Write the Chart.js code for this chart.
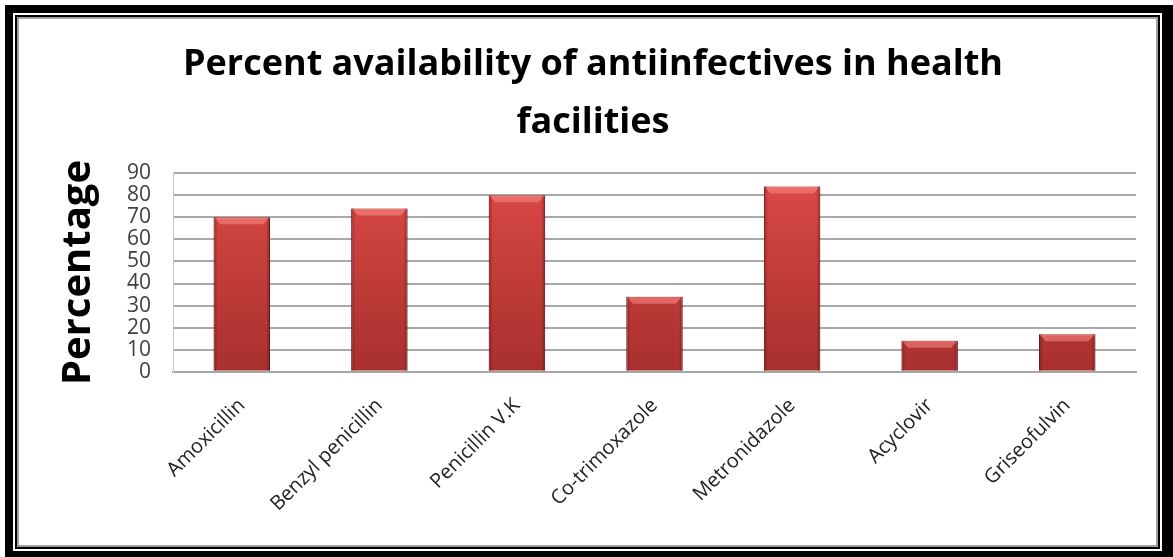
<!DOCTYPE html>
<html>
<head>
<meta charset="utf-8">
<script src="https://cdn.jsdelivr.net/npm/chart.js@4"></script>
<style>
  html, body { margin: 0; padding: 0; background: #fff; }
  #page { position: relative; width: 1173px; height: 557px; overflow: hidden; background: #fff; }
  #outer { position: absolute; left: 5px; top: 5px; right: 0; bottom: 0; background: #000; }
  #frame {
    position: absolute; left: 13px; top: 13px; right: 11px; bottom: 6px;
    border: 2px solid #fff; background: #fff;
    box-shadow: inset 0 0 0 2px #000, inset 0 0 0 4px #a0a0a0;
  }
  #wrap { position: absolute; left: 0; top: 0; width: 1173px; height: 557px; }
</style>
</head>
<body>
<div id="page">
  <div id="outer"></div>
  <div id="frame"></div>
  <div id="wrap"><canvas id="availChart" width="1173" height="557"></canvas></div>
</div>
<script>
  const drugs = ["Amoxicillin", "Benzyl penicillin", "Penicillin V.K", "Co-trimoxazole", "Metronidazole", "Acyclovir", "Griseofulvin"];
  const availability = [70, 74, 80, 34, 84, 14, 17];
  const yTicks = [0, 10, 20, 30, 40, 50, 60, 70, 80, 90];

  const fontFamily = "'Open Sans', 'Liberation Sans', sans-serif";

  function barGradient(context) {
    const chart = context.chart;
    const area = chart.chartArea;
    if (!area) return "#c83a3a";
    const g = chart.ctx.createLinearGradient(0, area.top, 0, area.bottom);
    g.addColorStop(0, "#dc4a48");
    g.addColorStop(1, "#a8302e");
    return g;
  }

  // light bevel on top of each bar and darker side edges
  const bevelPlugin = {
    id: "bevel",
    afterDatasetsDraw(chart) {
      const ctx = chart.ctx;
      const meta = chart.getDatasetMeta(0);
      meta.data.forEach((bar) => {
        const left = bar.x - bar.width / 2;
        const right = bar.x + bar.width / 2;
        const top = bar.y;
        const bottom = bar.base;
        const b = 7;
        ctx.save();
        ctx.fillStyle = "rgba(255,140,135,0.55)";
        ctx.beginPath();
        ctx.moveTo(left, top);
        ctx.lineTo(right, top);
        ctx.lineTo(right - b, top + b);
        ctx.lineTo(left + b, top + b);
        ctx.closePath();
        ctx.fill();
        ctx.fillStyle = "rgba(90,10,10,0.25)";
        ctx.fillRect(left, top, 3, bottom - top);
        ctx.fillRect(right - 3, top, 3, bottom - top);
        ctx.restore();
      });
    }
  };

  new Chart(document.getElementById("availChart").getContext("2d"), {
    type: "bar",
    data: {
      labels: drugs,
      datasets: [{
        data: availability,
        backgroundColor: barGradient,
        borderColor: "#6e1a18",
        borderWidth: 1,
        borderSkipped: "bottom",
        categoryPercentage: 1,
        barPercentage: 0.41
      }]
    },
    options: {
      responsive: false,
      animation: false,
      layout: { padding: { left: 50, right: 37, top: 36, bottom: 27 } },
      plugins: {
        legend: { display: false },
        tooltip: { enabled: false },
        title: {
          display: true,
          text: ["Percent availability of antiinfectives in health", "facilities"],
          color: "#000",
          font: { family: fontFamily, size: 36, weight: "bold", lineHeight: 1.6 },
          padding: { top: 0, bottom: 22 }
        }
      },
      scales: {
        x: {
          grid: { display: false },
          border: { color: "#a6a6a6", width: 2 },
          ticks: {
            color: "#222",
            font: { family: fontFamily, size: 20 },
            minRotation: 45,
            maxRotation: 45,
            padding: 14
          }
        },
        y: {
          min: 0,
          max: 90,
          afterBuildTicks(axis) {
            axis.ticks = yTicks.map((v) => ({ value: v }));
          },
          grid: { color: "#a9a9a9", lineWidth: 2, drawTicks: false },
          border: { color: "#c8c8c8", width: 1 },
          ticks: {
            autoSkip: false,
            color: "#404040",
            font: { family: fontFamily, size: 21, lineHeight: 0.9 },
            padding: 22
          },
          title: {
            display: true,
            text: "Percentage",
            color: "#000",
            font: { family: fontFamily, size: 40, weight: "bold" },
            padding: { top: 5, bottom: 2 }
          }
        }
      }
    },
    plugins: [bevelPlugin]
  });
</script>
</body>
</html>
